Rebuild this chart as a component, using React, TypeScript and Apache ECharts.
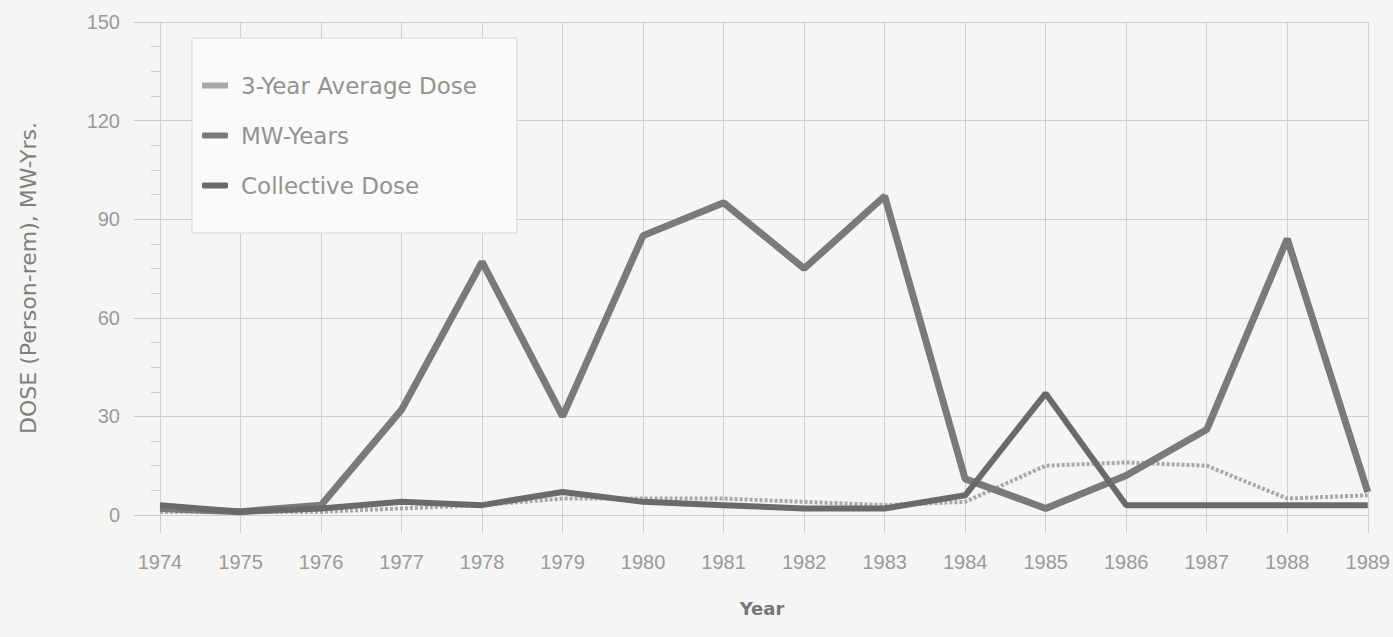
import React, { useEffect, useRef } from "react";
import * as echarts from "echarts";

const years = ["1974","1975","1976","1977","1978","1979","1980","1981","1982","1983","1984","1985","1986","1987","1988","1989"];
const avgDose = [1, 1, 1, 2, 3, 5, 5, 5, 4, 3, 4, 15, 16, 15, 5, 6];
const mwYears = [2, 1, 3, 32, 77, 30, 85, 95, 75, 97, 11, 2, 12, 26, 84, 7];
const collectiveDose = [3, 1, 2, 4, 3, 7, 4, 3, 2, 2, 6, 37, 3, 3, 3, 3];
const yTitle = "DOSE (Person-rem), MW-Yrs.";
const xTitle = "Year";

const FONT = "Liberation Sans, Arial, sans-serif";

export default function App() {
  const ref = useRef<HTMLDivElement>(null);
  useEffect(() => {
    const chart = echarts.init(ref.current!, null, { renderer: "svg" });
    chart.setOption({
      animation: false,
      backgroundColor: "#f5f5f3",
      grid: { left: 160, right: 15, top: 22, bottom: 122 },
      legend: {
        orient: "vertical",
        left: 192,
        top: 38,
        itemWidth: 26,
        itemHeight: 6,
        itemGap: 27,
        padding: [36, 40, 36, 10],
        backgroundColor: "rgba(250,250,248,0.93)",
        borderColor: "#d6d6d6",
        borderWidth: 1,
        textStyle: { fontSize: 23, color: "#939393", fontFamily: "DejaVu Sans, sans-serif", padding: [0, 0, 0, 8] },
        data: [
          { name: "3-Year Average Dose", icon: "rect" },
          { name: "MW-Years", icon: "roundRect" },
          { name: "Collective Dose", icon: "roundRect" },
        ],
      },
      graphic: [
        {
          type: "text",
          x: 28,
          y: 278,
          rotation: Math.PI / 2,
          style: {
            text: yTitle,
            fontSize: 22,
            fontFamily: "DejaVu Sans, sans-serif",
            fill: "#7e7e7e",
            align: "center",
            verticalAlign: "middle",
          },
        },
        {
          type: "text",
          x: 762,
          y: 608,
          style: {
            text: xTitle,
            fontSize: 18,
            fontWeight: "bold",
            fontFamily: "DejaVu Sans, sans-serif",
            fill: "#777",
            align: "center",
            verticalAlign: "middle",
          },
        },
      ],
      xAxis: {
        type: "category",
        data: years,
        boundaryGap: false,
        axisLine: { show: false },
        axisTick: { show: true, length: 18, lineStyle: { color: "#cfcfcf" } },
        axisLabel: { fontSize: 20, color: "#9a9a9a", margin: 37, fontFamily: FONT },
        splitLine: { show: true, lineStyle: { color: "#cfcfcf", width: 1 } },
      },
      yAxis: {
        type: "value",
        min: 0,
        max: 150,
        interval: 30,
        axisLine: { show: false },
        axisTick: { show: true, length: 26, lineStyle: { color: "#c8c8c8" } },
        minorTick: { show: true, splitNumber: 4, length: 9, lineStyle: { color: "#cfcfcf" } },
        axisLabel: { fontSize: 20, color: "#9a9a9a", margin: 40, fontFamily: FONT },
        splitLine: { show: true, lineStyle: { color: "#cfcfcf", width: 1 } },
      },
      series: [
        {
          name: "3-Year Average Dose",
          type: "line",
          data: avgDose,
          symbol: "none",
          itemStyle: { color: "#a8a8a8" },
          lineStyle: { color: "#a8a8a8", width: 4, type: [3, 2] },
          z: 2,
        },
        {
          name: "MW-Years",
          type: "line",
          data: mwYears,
          symbol: "none",
          itemStyle: { color: "#7a7a7a" },
          lineStyle: { color: "#7a7a7a", width: 7 },
          z: 3,
        },
        {
          name: "Collective Dose",
          type: "line",
          data: collectiveDose,
          symbol: "none",
          itemStyle: { color: "#6a6a6a" },
          lineStyle: { color: "#6a6a6a", width: 6 },
          z: 4,
        },
      ],
    });
    return () => chart.dispose();
  }, []);
  return (
    <div
      ref={ref}
      style={{ position: "absolute", left: 0, top: 0, width: 1393, height: 637 }}
    />
  );
}
